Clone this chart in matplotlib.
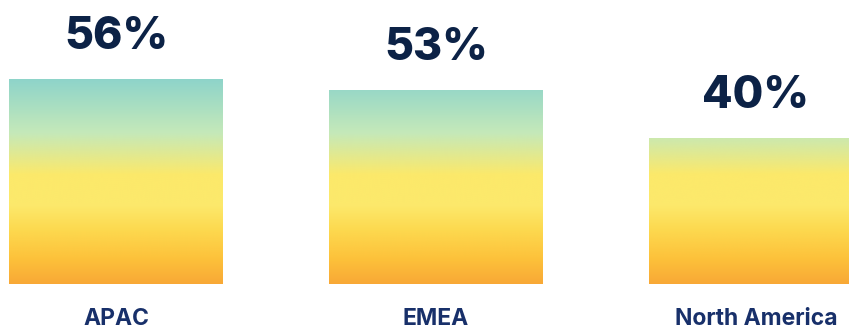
import numpy as np
import matplotlib.pyplot as plt
from matplotlib.colors import LinearSegmentedColormap
from matplotlib.patches import Rectangle

########## Data ##########
regions = ["APAC", "EMEA", "North America"]
shares = [56, 53, 40]

# gradient colour stops: value (%) -> colour
grad_levels = [0, 6.6, 14.8, 21.6, 29.8, 41.3, 56]
grad_colors = ["#f8a836", "#fdc13a", "#fdd94f", "#fce96c", "#fce96a", "#c5e9b9", "#8ed4ca"]

########## Layout ##########
W, H, dpi = 849, 331, 100
px_per_pct = 3.655          # vertical scale
base_px = 284               # bar baseline, px from top
step_px = 320               # distance between bar centres
first_px = 116              # centre of first bar
bar_w = 214 / step_px

fig = plt.figure(figsize=(W / dpi, H / dpi), dpi=dpi)
ax = fig.add_axes([0, (H - base_px) / H, 1, base_px / H])
ax.axis("off")

top = grad_levels[-1]
nodes = [v / top for v in grad_levels]
cmap = LinearSegmentedColormap.from_list("warm", list(zip(nodes, grad_colors)))
grad = np.linspace(0, 1, 512).reshape(-1, 1)

for i, (name, val) in enumerate(zip(regions, shares)):
    x0 = i - bar_w / 2
    rect = Rectangle((x0, 0), bar_w, val, facecolor="none", edgecolor="none")
    ax.add_patch(rect)
    im = ax.imshow(grad, cmap=cmap, origin="lower", aspect="auto",
                   extent=(x0, x0 + bar_w, 0, top), interpolation="bicubic")
    im.set_clip_path(rect)

    ax.annotate(f"{val}%", (i, val), xytext=(0, 30 * 72 / dpi),
                textcoords="offset points", ha="center", va="baseline",
                fontsize=32, fontweight="heavy", color="#0c2246",
                family="Inter")
    ax.text(i, -41 / px_per_pct, name, ha="center", va="baseline",
            fontsize=16.5, fontweight="bold", color="#18306a",
            family="Inter", clip_on=False)

ax.set_xlim(-first_px / step_px, (W - first_px) / step_px)
ax.set_ylim(0, base_px / px_per_pct)

fig.savefig("out.png", dpi=dpi, facecolor="white")
